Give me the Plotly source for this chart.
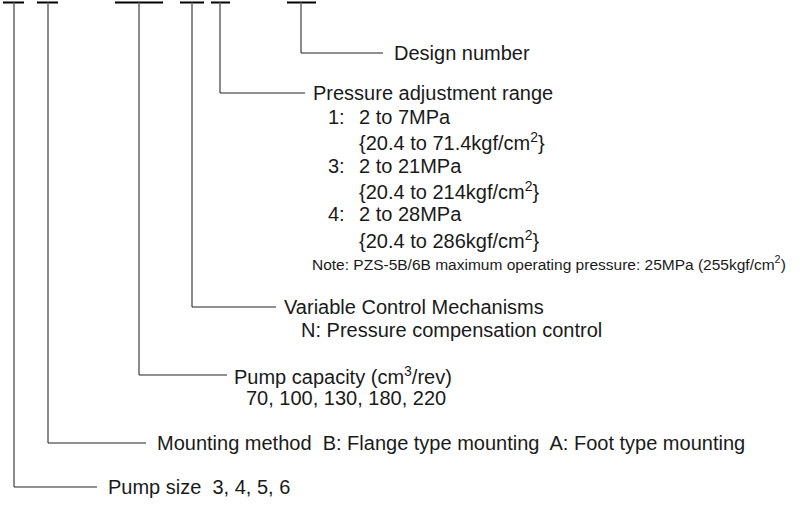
import plotly.graph_objects as go

# code segments along the top: left/right end of each bar and the x of its leader
bar_left = [3, 37, 115, 180, 211, 287]
bar_right = [24, 58, 163, 204, 230, 316]
leader_x = [14, 48, 139, 192, 220, 301]
# y where each leader turns right, and x where that run stops
elbow_y = [487, 443, 375, 307, 93, 53]
elbow_end = [97, 146, 227, 276, 305, 383]

# label texts: (x, y, text, size)
labels = [
    (107, 487, "Pump size&nbsp; 3, 4, 5, 6", 20),
    (156, 443, "Mounting method&nbsp; B: Flange type mounting&nbsp; A: Foot type mounting", 20),
    (233, 375, "Pump capacity (cm<sup>3</sup>/rev)", 20),
    (245, 398, "70, 100, 130, 180, 220", 20),
    (283, 307, "Variable Control Mechanisms", 20),
    (300, 330, "N: Pressure compensation control", 20),
    (312, 93, "Pressure adjustment range", 20),
    (327, 117, "1:", 20),
    (358, 117, "2 to 7MPa", 20),
    (358, 141, "{20.4 to 71.4kgf/cm<sup>2</sup>}", 20),
    (327, 166, "3:", 20),
    (358, 166, "2 to 21MPa", 20),
    (358, 190, "{20.4 to 214kgf/cm<sup>2</sup>}", 20),
    (327, 214, "4:", 20),
    (358, 214, "2 to 28MPa", 20),
    (358, 239, "{20.4 to 286kgf/cm<sup>2</sup>}", 20),
    (311, 263, "Note: PZS-5B/6B maximum operating pressure: 25MPa (255kgf/cm<sup>2</sup>)", 15.5),
    (393, 53, "Design number", 20),
]

TOP_Y = 2.5

fig = go.Figure()

# top bars
bx, by = [], []
for l, r in zip(bar_left, bar_right):
    bx += [l, r, None]
    by += [TOP_Y, TOP_Y, None]
fig.add_trace(go.Scatter(x=bx, y=by, mode="lines",
                         line=dict(color="#000", width=2), hoverinfo="skip"))

# leaders going down
vx, vy = [], []
for x0, y1 in zip(leader_x, elbow_y):
    vx += [x0, x0, None]
    vy += [TOP_Y, y1, None]
fig.add_trace(go.Scatter(x=vx, y=vy, mode="lines",
                         line=dict(color="#6e6e6e", width=1.6), hoverinfo="skip"))

# horizontal runs to the labels
hx, hy = [], []
for x0, y1, x1 in zip(leader_x, elbow_y, elbow_end):
    hx += [x0, x1, None]
    hy += [y1, y1, None]
fig.add_trace(go.Scatter(x=hx, y=hy, mode="lines",
                         line=dict(color="#222", width=1.2), hoverinfo="skip"))

for x, y, t, s in labels:
    fig.add_annotation(x=x, y=y, text=t, showarrow=False, xanchor="left",
                       yanchor="middle", borderpad=0,
                       font=dict(size=s, color="#1a1a1a",
                                 family="Liberation Sans, Arial, sans-serif"))

fig.update_layout(
    width=803, height=506,
    margin=dict(l=0, r=0, t=0, b=0),
    paper_bgcolor="white", plot_bgcolor="white",
    showlegend=False,
    xaxis=dict(range=[0, 803], visible=False, fixedrange=True),
    yaxis=dict(range=[506, 0], visible=False, fixedrange=True),
)

fig.write_html("out.html", config={"displayModeBar": False},
               post_script="document.body.style.margin='0';")
